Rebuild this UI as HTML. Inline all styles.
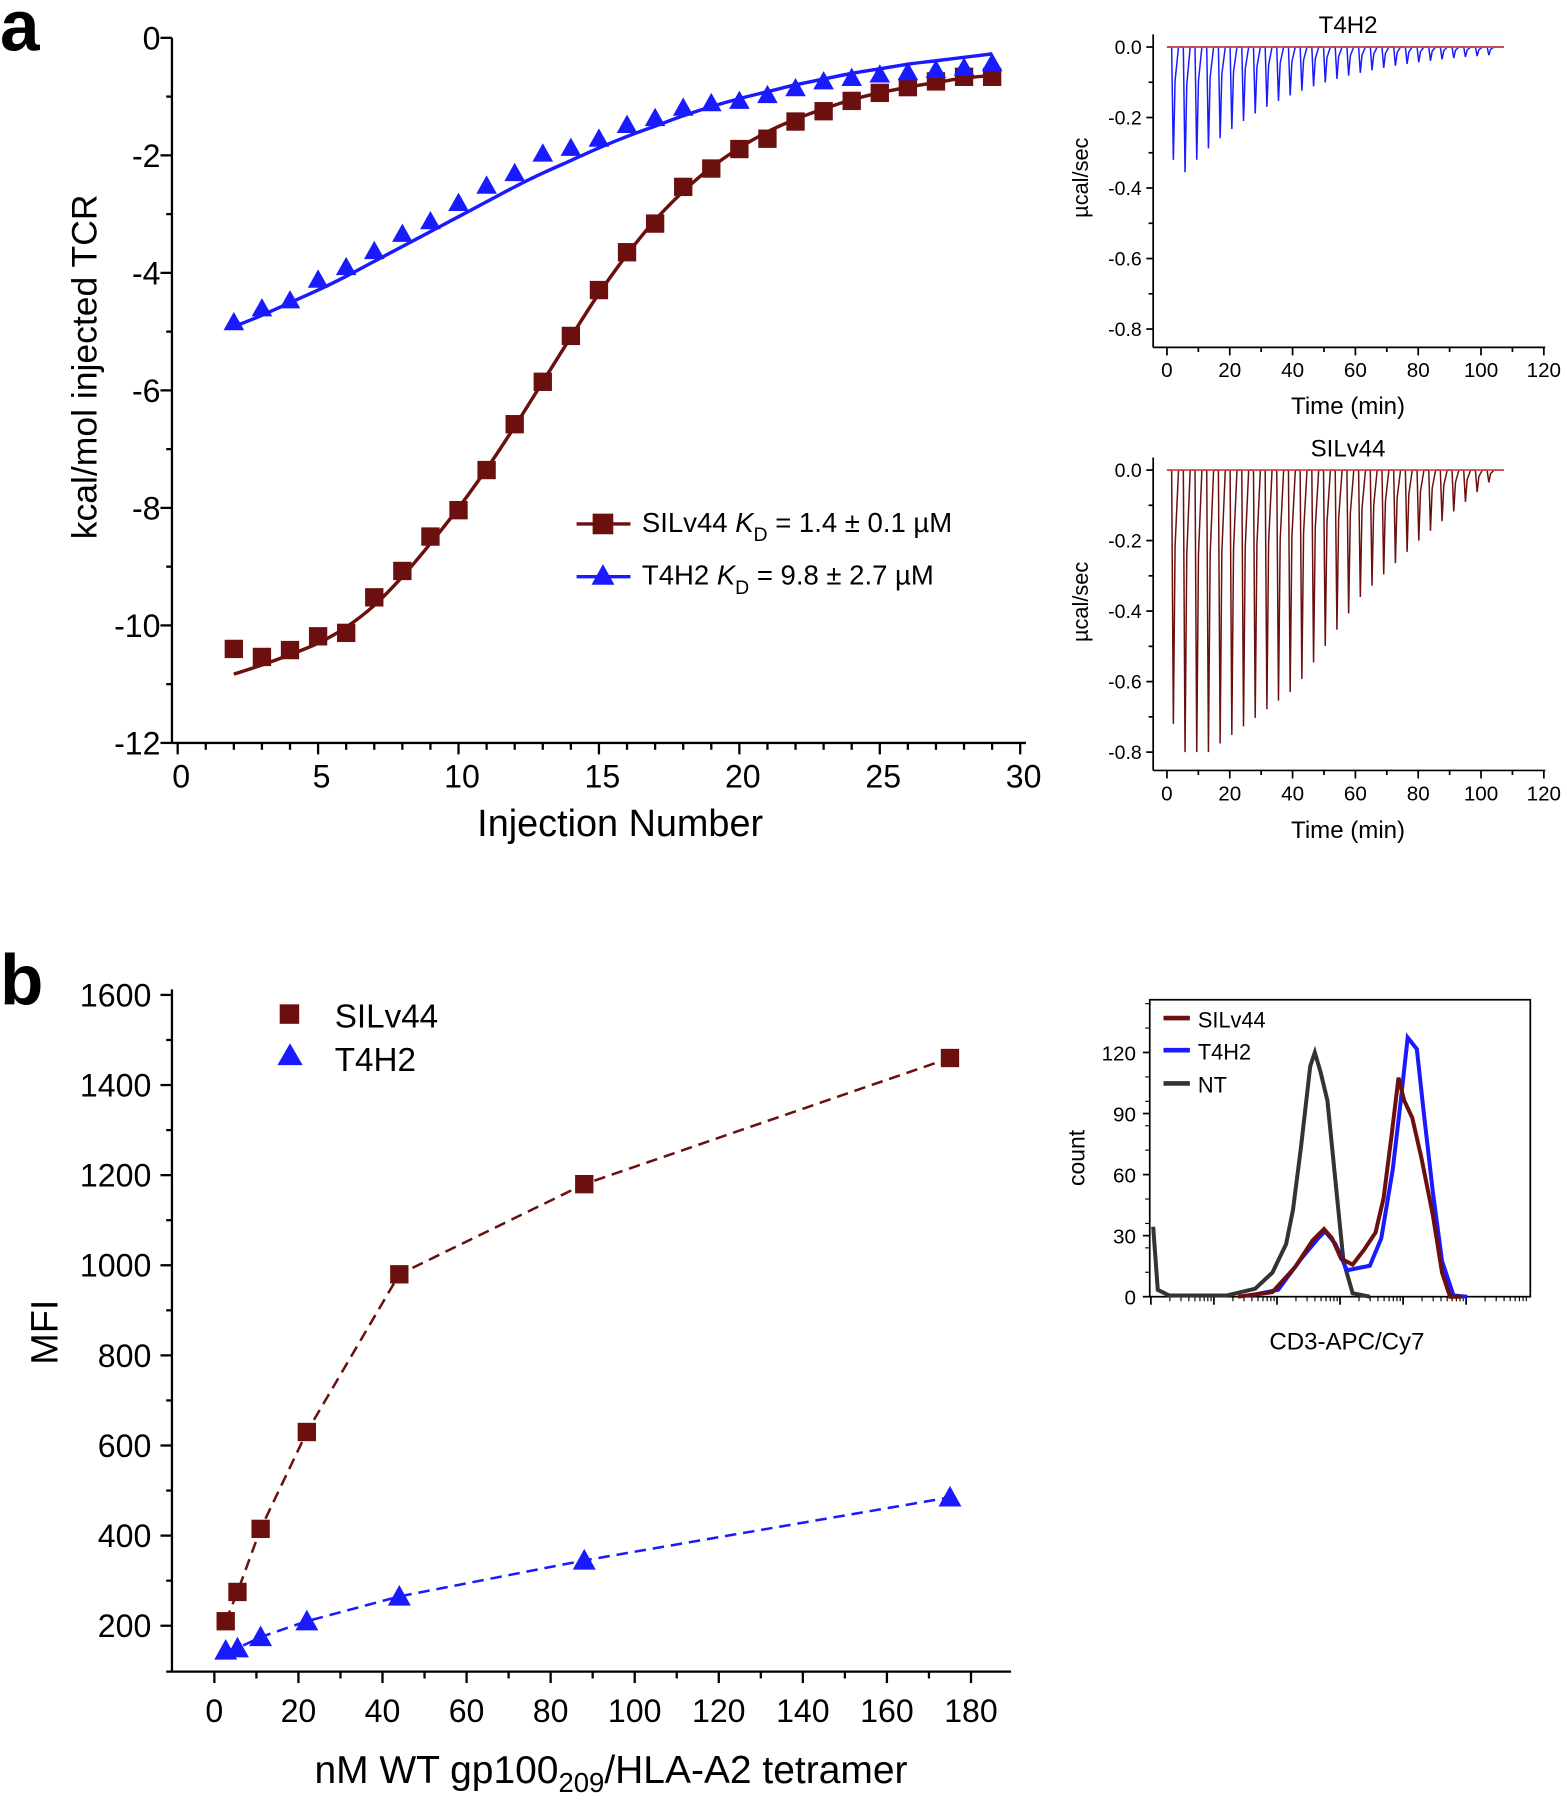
<!DOCTYPE html>
<html><head><meta charset="utf-8"><style>
html,body{margin:0;padding:0;background:#fff;}
svg{display:block;font-family:"Liberation Sans",sans-serif;}
</style></head><body>
<svg id="s" width="1567" height="1800" viewBox="0 0 1367 1570" preserveAspectRatio="none" xmlns="http://www.w3.org/2000/svg">
<rect width="1367" height="1570" fill="#fff"/>
<text x="0" y="44" font-size="62" font-weight="bold">a</text>
<text x="0" y="876" font-size="62" font-weight="bold">b</text>
<g id="g"></g>
<text transform="translate(84,320) rotate(-90)" text-anchor="middle" font-size="31">kcal/mol injected TCR</text>
<text x="541" y="729" text-anchor="middle" font-size="33">Injection Number</text>
<line x1="503" y1="457" x2="550" y2="457" stroke="#6b0f0f" stroke-width="3"/>
<rect x="517" y="448" width="18" height="18" fill="#6b0f0f"/>
<text x="560" y="464" font-size="24">SILv44 <tspan font-style="italic">K</tspan><tspan font-size="17" dy="8">D</tspan><tspan dy="-8"> = 1.4 ± 0.1 µM</tspan></text>
<line x1="503" y1="503" x2="550" y2="503" stroke="#1a1aff" stroke-width="3"/>
<polygon points="526,492 516,510 536,510" fill="#1a1aff"/>
<text x="560" y="510" font-size="24">T4H2 <tspan font-style="italic">K</tspan><tspan font-size="17" dy="8">D</tspan><tspan dy="-8"> = 9.8 ± 2.7 µM</tspan></text>
<text x="1176" y="29" text-anchor="middle" font-size="21">T4H2</text>
<text x="1176" y="398" text-anchor="middle" font-size="21">SILv44</text>
<text transform="translate(949,155) rotate(-90)" text-anchor="middle" font-size="19">µcal/sec</text>
<text transform="translate(949,525) rotate(-90)" text-anchor="middle" font-size="19">µcal/sec</text>
<text x="1176" y="361" text-anchor="middle" font-size="21">Time (min)</text>
<text x="1176" y="731" text-anchor="middle" font-size="21">Time (min)</text>
<text transform="translate(50,1162) rotate(-90)" text-anchor="middle" font-size="33">MFI</text>
<text x="533" y="1555" text-anchor="middle" font-size="34">nM WT gp100<tspan font-size="24" dy="8">209</tspan><tspan dy="-8">/HLA-A2 tetramer</tspan></text>
<rect x="244" y="876" width="17" height="17" fill="#6b0f0f"/>
<text x="292" y="896" font-size="29">SILv44</text>
<polygon points="253,910 242,929 264,929" fill="#1a1aff"/>
<text x="292" y="934" font-size="29">T4H2</text>
<rect x="1003" y="872" width="332" height="259" fill="none" stroke="#000" stroke-width="1.5"/>
<line x1="1015" y1="888" x2="1038" y2="888" stroke="#6b0f0f" stroke-width="4"/>
<text x="1045" y="896" font-size="19">SILv44</text>
<line x1="1015" y1="916" x2="1038" y2="916" stroke="#1a1aff" stroke-width="4"/>
<text x="1045" y="924" font-size="19">T4H2</text>
<line x1="1015" y1="945" x2="1038" y2="945" stroke="#333" stroke-width="4"/>
<text x="1045" y="953" font-size="19">NT</text>
<text x="1175" y="1177" text-anchor="middle" font-size="21">CD3-APC/Cy7</text>
<text transform="translate(946,1010) rotate(-90)" text-anchor="middle" font-size="20">count</text>
<path d="M1006,1070 L1010,1125 L1020,1130 L1070,1130 L1095,1124 L1110,1110 L1122,1085 L1128,1055 L1135,1000 L1143,930 L1147,918 L1152,935 L1158,960 L1165,1030 L1172,1100 L1180,1128 L1195,1131" fill="none" stroke="#333" stroke-width="3.5"/>
<path d="M1090,1130 L1115,1125 L1135,1098 L1150,1080 L1156,1074 L1165,1085 L1175,1108 L1185,1106 L1195,1104 L1205,1080 L1215,1020 L1222,960 L1228,905 L1232,910 L1236,915 L1242,970 L1250,1040 L1258,1100 L1268,1130 L1280,1131" fill="none" stroke="#1a1aff" stroke-width="3.5"/>
<path d="M1080,1131 L1110,1127 L1130,1105 L1145,1082 L1155,1072 L1162,1080 L1170,1098 L1180,1103 L1190,1090 L1200,1075 L1207,1045 L1214,990 L1220,940 L1225,960 L1232,975 L1240,1010 L1250,1060 L1258,1110 L1265,1131 L1275,1131" fill="none" stroke="#6b0f0f" stroke-width="3.5"/>
</svg>
<script>
const g=document.getElementById('g');let h='';
const L=(a,b,c,d,w,col)=>h+=`<line x1="${a}" y1="${b}" x2="${c}" y2="${d}" stroke="${col||'#000'}" stroke-width="${w||2}"/>`;
const T=(x,y,t,fs,anc)=>h+=`<text x="${x}" y="${y}" font-size="${fs}" text-anchor="${anc||'middle'}">${t}</text>`;
L(150,33,150,648);L(150,648,895,648);
for(let v=0;v<=12;v++){let y=33+v*51.25;L(150,y,v%2==0?140:145,y);if(v%2==0)T(140,y+10,v==0?'0':'-'+v,28,'end');}
for(let n=0;n<=30;n++){let x=155+24.5*n;L(x,648,x,n%5==0?658:654);if(n%5==0)T(x+3,687,n,28);}
const X=n=>155+24.5*n;
const sil=[566,573,567,555,552,521,498,468,445,410,370,333,293,253,220,195,163,147,130,121,106,97,88,81,76,71,67,67];
const t4=[281,269,262,244,233,219,204,193,177,162,151,134,129,121,109,103,94,90,88,83,77,71,68,65,63,61,59,55];
function smooth(pts){let d='M'+pts[0][0]+','+pts[0][1];
 for(let i=0;i<pts.length-1;i++){let p0=pts[Math.max(0,i-1)],p1=pts[i],p2=pts[i+1],p3=pts[Math.min(pts.length-1,i+2)];
  d+=` C${(p1[0]+(p2[0]-p0[0])/6).toFixed(1)},${(p1[1]+(p2[1]-p0[1])/6).toFixed(1)} ${(p2[0]-(p3[0]-p1[0])/6).toFixed(1)},${(p2[1]-(p3[1]-p1[1])/6).toFixed(1)} ${p2[0].toFixed(1)},${p2[1].toFixed(1)}`;}return d;}
const sf=[588,580,571,561,547,528,503,474,443,409,372,333,294,256,222,192,167,146,129,115,104,95,87,81,76,72,68,66];
const tf=[285,275,264,253,241,228,215,202,189,176,163,151,140,129,119,110,101,93,86,80,74,69,64,60,56,53,50,47];
h+=`<path d="${smooth(sf.map((y,i)=>[X(i+2),y]))}" fill="none" stroke="#6b0f0f" stroke-width="3"/>`;
h+=`<path d="${smooth(tf.map((y,i)=>[X(i+2),y]))}" fill="none" stroke="#1a1aff" stroke-width="3"/>`;
sil.forEach((y,i)=>h+=`<rect x="${X(i+2)-8}" y="${y-8}" width="16" height="16" fill="#6b0f0f"/>`);
t4.forEach((y,i)=>{let x=X(i+2);h+=`<polygon points="${x},${y-9} ${x-9},${y+7} ${x+9},${y+7}" fill="#1a1aff"/>`;});
function itc(oy,col,depths){
 let ax=1006,top=30+oy,y0=41+oy,ys=61.5/0.2,bot=303+oy;
 L(ax,top,ax,bot,1.5);L(ax,bot,1348,bot,1.5);
 for(let k=0;k<=4;k++){let y=y0+k*61.5;L(ax,y,ax-6,y,1.5);T(ax-10,y+6,k==0?'0.0':'-0.'+(2*k),17,'end');
  if(k<4)L(ax,y+30.75,ax-4,y+30.75,1.5);}
 for(let t=0;t<=120;t+=10){let x=1018+2.74*t;L(x,bot,x,bot+(t%20==0?7:4),1.5);if(t%20==0)T(x,bot+26,t,18);}
 let d='M1018,'+y0;
 depths.forEach((dp,i)=>{let t=1.5+3.72*i,x=1018+2.74*t;d+=` L${x.toFixed(1)},${y0} L${(x+1.5).toFixed(1)},${(y0+dp*ys).toFixed(1)} L${(x+3).toFixed(1)},${(y0+dp*ys*0.3).toFixed(1)} L${(x+6).toFixed(1)},${y0}`;});
 d+=' L1312,'+y0;
 h+=`<path d="${d}" fill="none" stroke="${col}" stroke-width="1.3"/>`;
 L(1018,y0,1312,y0,1.5,'#d04040');
}
function interp(i,pts){for(let k=0;k<pts.length-1;k++){if(i<=pts[k+1][0]){let a=pts[k],b=pts[k+1];return a[1]+(b[1]-a[1])*(i-a[0])/(b[0]-a[0]);}}return pts[pts.length-1][1];}
let dT=[],dS=[];
for(let i=0;i<28;i++){dT.push(i==0?0.32:0.355*Math.exp(-(i-1)/9.5));
 dS.push(i==0?0.72:interp(i,[[1,0.8],[3,0.8],[10.4,0.62],[16,0.36],[21,0.2],[27,0.035]]));}
itc(0,'#1a1aff',dT);itc(369,'#6b0f0f',dS);
L(150,863,150,1458);L(145,1458,882,1458);
for(let v=200;v<=1600;v+=100){let y=1418-(v-200)/200*78.6;L(150,y,v%200==0?140:145,y);if(v%200==0)T(132,y+10,v,28,'end');}
const BX=v=>187+v*3.667,BY=v=>1418-(v-200)/200*78.6;
for(let v=0;v<=180;v+=10){let x=BX(v);L(x,1458,x,v%20==0?1468:1464);if(v%20==0)T(x,1502,v,28);}
const s2=[[2.7,210],[5.5,275],[11,415],[22,630],[44,980],[88,1180],[175,1460]],t2=[[2.7,145],[5.5,150],[11,175],[22,210],[44,265],[88,345],[175,485]];
h+=`<path d="${s2.map((p,i)=>(i?'L':'M')+BX(p[0])+','+BY(p[1])).join(' ')}" fill="none" stroke="#6b0f0f" stroke-width="2.2" stroke-dasharray="10,6"/>`;
h+=`<path d="${t2.map((p,i)=>(i?'L':'M')+BX(p[0])+','+BY(p[1])).join(' ')}" fill="none" stroke="#1a1aff" stroke-width="2.2" stroke-dasharray="10,6"/>`;
s2.forEach(p=>h+=`<rect x="${BX(p[0])-8}" y="${BY(p[1])-8}" width="16" height="16" fill="#6b0f0f"/>`);
t2.forEach(p=>{let x=BX(p[0]),y=BY(p[1]);h+=`<polygon points="${x},${y-10} ${x-10},${y+8} ${x+10},${y+8}" fill="#1a1aff"/>`;});
for(let k=0;k<=4;k++){let y=1131-k*53.25;L(1003,y,997,y,1.5);T(991,y+7,k*30,18,'end');}
for(let y=1131-21.3;y>875;y-=21.3){L(1003,y,999,y,1);}
for(let dec=0;dec<6;dec++){let x0=1004+dec*55;if(x0<=1335)L(x0,1131,x0,1138,1.5);for(let m=2;m<10;m++){let x=x0+55*Math.log10(m);if(x<1335)L(x,1131,x,1135,1);}}
g.innerHTML=h;
</script>
</body></html>
